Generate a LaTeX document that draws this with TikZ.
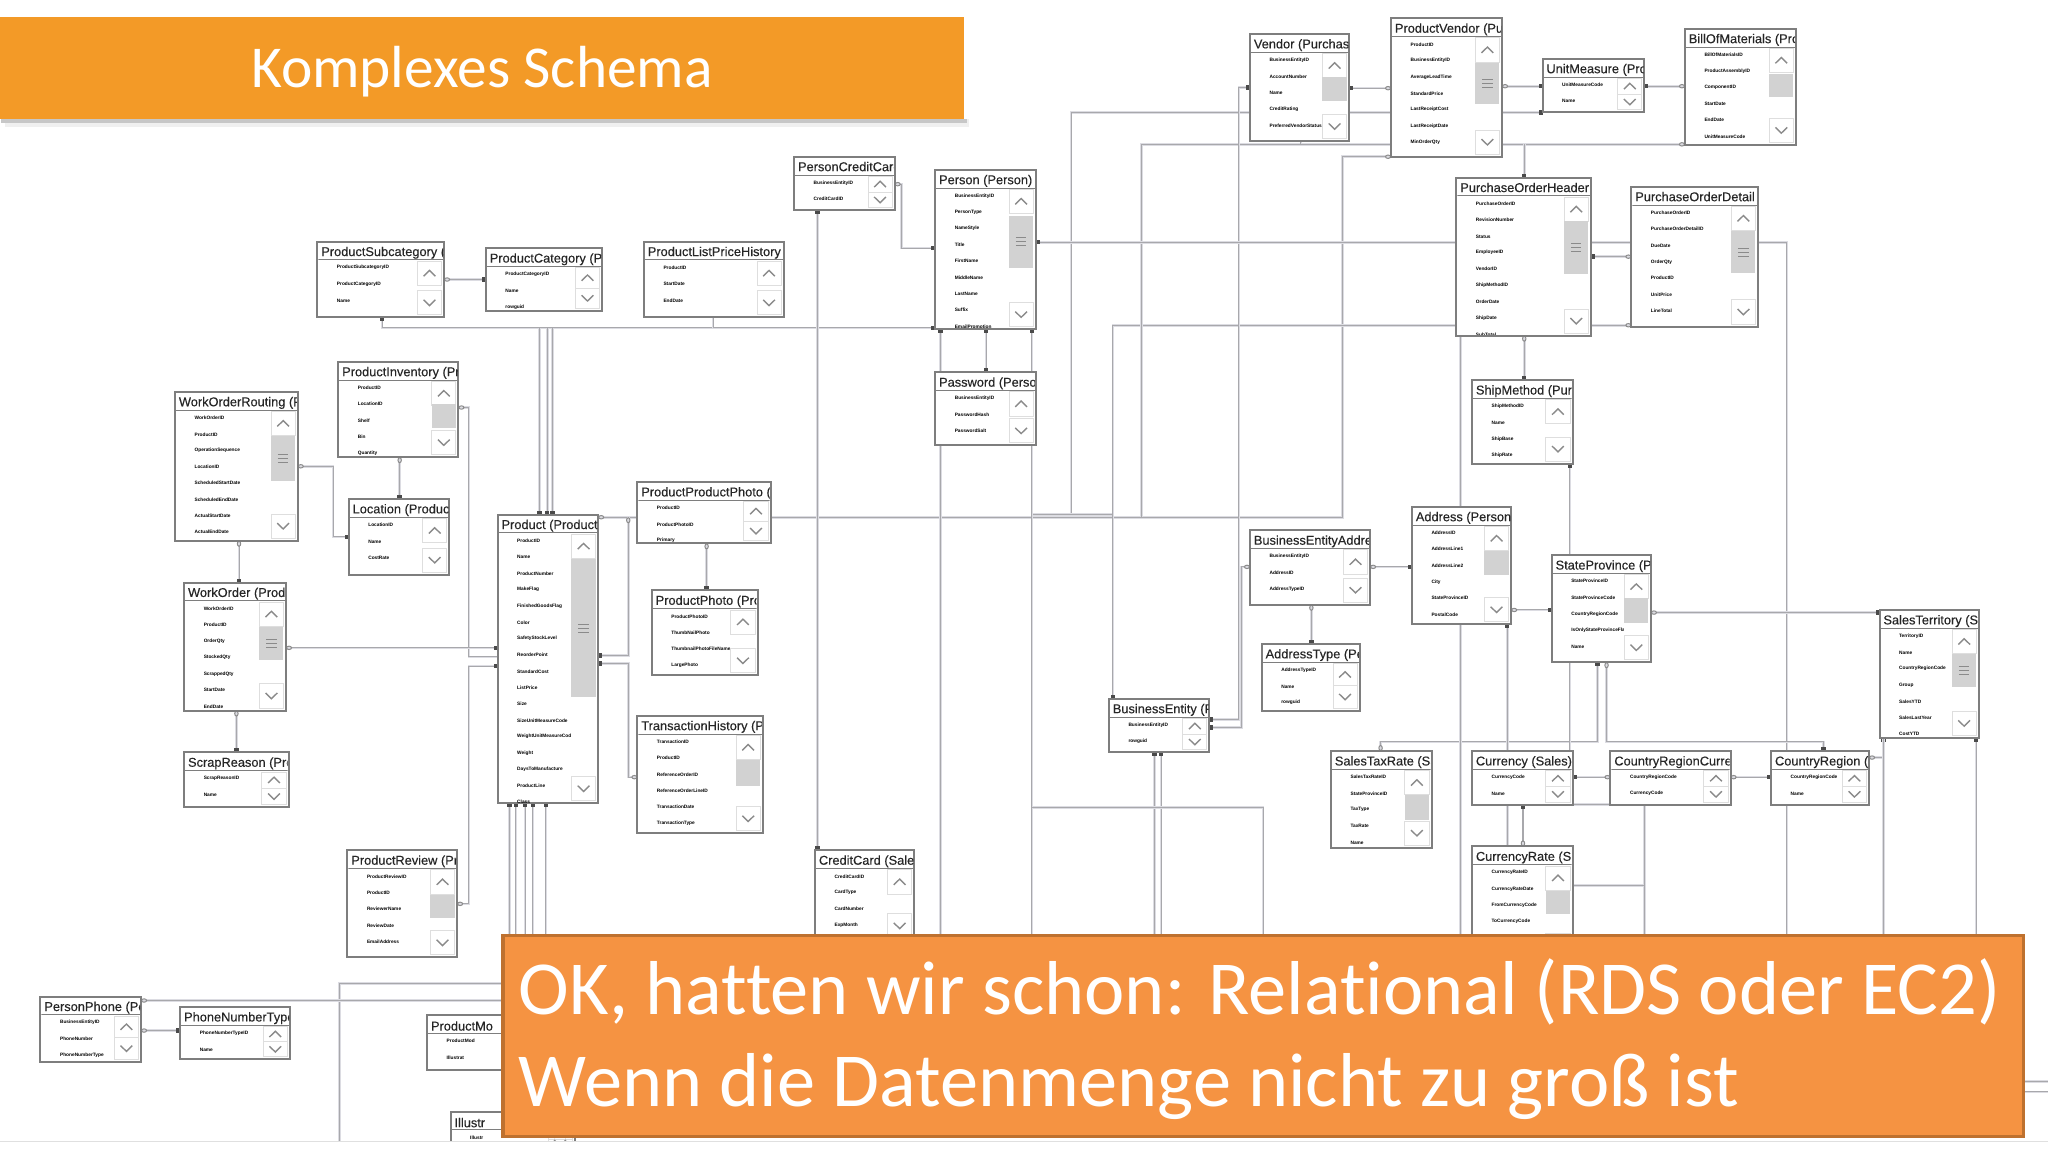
\documentclass[tikz,border=0pt]{standalone}
\usepackage{fontspec}
\setmainfont{Liberation Sans}
\newfontfamily\bannerfont[Ligatures=NoCommon]{Carlito}
\newfontfamily\titlefont[FakeBold=0.25]{Liberation Sans}
\usetikzlibrary{fit,arrows.meta,calc}
\definecolor{wirec}{HTML}{A8A8AC}
\definecolor{haloc}{HTML}{DCDCE2}
\definecolor{boxc}{HTML}{7E7E7E}
\definecolor{thumbc}{HTML}{D2D2D2}
\definecolor{btnc}{HTML}{DEDEDE}
\definecolor{chevc}{HTML}{8A8A8A}
\definecolor{keyc}{HTML}{4A4A4A}
\definecolor{infc}{HTML}{8C8C8C}
\definecolor{topor}{HTML}{F39A27}
\definecolor{botor}{HTML}{F59342}
\definecolor{botedge}{HTML}{BE712F}
\pgfdeclarelayer{bg}
\pgfsetlayers{bg,main}
\tikzset{
  keyt/.tip={Rectangle[length=2pt,width=2.2pt,color=keyc,fill=keyc]},
  inft/.tip={Circle[open,length=3pt,width=2.2pt,color=infc,line width=.5pt]},
  conn/.style={draw=wirec,line width=.5pt,preaction={draw=haloc,line width=1.3pt,-}},
  tblbox/.style={draw=boxc,line width=1pt,fill=white,inner sep=0pt,outer sep=0pt},
  tbltitle/.style={font=\titlefont\fontsize{6.4}{7}\selectfont,text=black!85,inner sep=0pt,outer sep=0pt},
  tblrow/.style={font=\fontsize{2.4}{3}\selectfont\bfseries,text=black,inner sep=0pt,outer sep=0pt},
  titlerule/.style={draw=boxc,line width=.5pt},
  btn/.style={draw=btnc,line width=.4pt,fill=white},
  chev/.style={draw=chevc,line width=.7pt},
  thumb/.style={fill=thumbc,draw=none},
  thumbline/.style={draw=chevc,line width=.45pt},
}
\newcommand\tbl[8]{%
  \node[tblbox,fit={(#2,#3)(#4,#5)}] (#1) {};
  \begin{scope}
    \clip (#2+.7,#3+.7) rectangle (#4-.7,#5-.7);
    \node[tbltitle,anchor=west] at (#2+3,#3+8.5) {#6};
    \draw[titlerule] (#2,#3+14) -- (#4,#3+14);
    \foreach \rr [count=\ii] in {#7}
      \node[tblrow,anchor=west] at (#2+15,#3+7.5+12.5*\ii) {\rr};
    \pgfmathsetmacro\cta{#3+15}
    \pgfmathsetmacro\ctb{#5-2}
    \pgfmathsetmacro\bh{min(18.5,(\ctb-\cta)/2)}
    \pgfmathsetmacro\sxa{#4-20.5}
    \pgfmathsetmacro\sxb{#4-2}
    \pgfmathsetmacro\scx{#4-11.2}
    \fill[white] (\sxa,\cta) rectangle (\sxb,\ctb);
    \draw[btn] (\sxa,\cta) rectangle (\sxb,\cta+\bh);
    \draw[btn] (\sxa,\ctb-\bh) rectangle (\sxb,\ctb);
    \draw[chev] (\scx-4.5,\cta+\bh/2+2.2) -- (\scx,\cta+\bh/2-2.2) -- (\scx+4.5,\cta+\bh/2+2.2);
    \draw[chev] (\scx-4.5,\ctb-\bh/2-2.2) -- (\scx,\ctb-\bh/2+2.2) -- (\scx+4.5,\ctb-\bh/2-2.2);
    \foreach \ta/\tb/\tl in {#8} {%
      \ifnum\tl>-1\relax
        \fill[thumb] (\sxa,\ta) rectangle (\sxb,\tb);
      \fi
      \ifnum\tl>0\relax
        \pgfmathsetmacro\tm{(\ta+\tb)/2}
        \draw[thumbline] (\scx-4,\tm-3) -- (\scx+4,\tm-3);
        \draw[thumbline] (\scx-4,\tm) -- (\scx+4,\tm);
        \draw[thumbline] (\scx-4,\tm+3) -- (\scx+4,\tm+3);
      \fi
    }
  \end{scope}
}
\begin{document}
\begin{tikzpicture}[x=0.653061pt,y=-0.653061pt]
\useasboundingbox (0,0) rectangle (1568,882);

\tbl{Vendor}{957}{26}{1033}{108}{Vendor (Purchasing)}{BusinessEntityID,AccountNumber,Name,CreditRating,PreferredVendorStatus}{59/77/0}
\tbl{ProductVendor}{1065}{14}{1150}{120}{ProductVendor (Purchasing)}{ProductID,BusinessEntityID,AverageLeadTime,StandardPrice,LastReceiptCost,LastReceiptDate,MinOrderQty}{48/80/1}
\tbl{UnitMeasure}{1181}{45}{1259}{86}{UnitMeasure (Production)}{UnitMeasureCode,Name}{0/0/-1}
\tbl{BillOfMaterials}{1290}{22}{1375}{111}{BillOfMaterials (Production)}{BillOfMaterialsID,ProductAssemblyID,ComponentID,StartDate,EndDate,UnitMeasureCode}{57/74/0}
\tbl{POH}{1115}{136}{1218}{257}{PurchaseOrderHeader (Purchasing)}{PurchaseOrderID,RevisionNumber,Status,EmployeeID,VendorID,ShipMethodID,OrderDate,ShipDate,SubTotal}{169/210/1}
\tbl{POD}{1249}{143}{1346}{250}{PurchaseOrderDetail (Purchasing)}{PurchaseOrderID,PurchaseOrderDetailID,DueDate,OrderQty,ProductID,UnitPrice,LineTotal}{177/209/1}
\tbl{PersonCreditCard}{608}{120}{685}{161}{PersonCreditCard (Sales)}{BusinessEntityID,CreditCardID}{0/0/-1}
\tbl{Person}{716}{130}{793}{252}{Person (Person)}{BusinessEntityID,PersonType,NameStyle,Title,FirstName,MiddleName,LastName,Suffix,EmailPromotion,AdditionalContactInfo}{165/205/1}
\tbl{ProductSubcategory}{243}{185}{340}{243}{ProductSubcategory (Production)}{ProductSubcategoryID,ProductCategoryID,Name}{0/0/-1}
\tbl{ProductCategory}{372}{190}{461}{238}{ProductCategory (Production)}{ProductCategoryID,Name,rowguid}{0/0/-1}
\tbl{ProductListPriceHistory}{493}{185}{600}{243}{ProductListPriceHistory (Production)}{ProductID,StartDate,EndDate}{0/0/-1}
\tbl{ProductInventory}{259}{277}{351}{350}{ProductInventory (Production)}{ProductID,LocationID,Shelf,Bin,Quantity}{309/328/0}
\tbl{WorkOrderRouting}{134}{300}{228}{414}{WorkOrderRouting (Production)}{WorkOrderID,ProductID,OperationSequence,LocationID,ScheduledStartDate,ScheduledEndDate,ActualStartDate,ActualEndDate}{334/368/1}
\tbl{Location}{267}{382}{344}{440}{Location (Production)}{LocationID,Name,CostRate}{0/0/-1}
\tbl{Password}{716}{285}{793}{341}{Password (Person)}{BusinessEntityID,PasswordHash,PasswordSalt}{0/0/-1}
\tbl{ShipMethod}{1127}{291}{1204}{355}{ShipMethod (Purchasing)}{ShipMethodID,Name,ShipBase,ShipRate}{0/0/-1}
\tbl{ProductProductPhoto}{488}{369}{590}{416}{ProductProductPhoto (Production)}{ProductID,ProductPhotoID,Primary}{0/0/-1}
\tbl{Product}{381}{394}{458}{615}{Product (Production)}{ProductID,Name,ProductNumber,MakeFlag,FinishedGoodsFlag,Color,SafetyStockLevel,ReorderPoint,StandardCost,ListPrice,Size,SizeUnitMeasureCode,WeightUnitMeasureCode,Weight,DaysToManufacture,ProductLine,Class}{428/534/1}
\tbl{ProductPhoto}{499}{452}{580}{517}{ProductPhoto (Production)}{ProductPhotoID,ThumbNailPhoto,ThumbnailPhotoFileName,LargePhoto}{0/0/-1}
\tbl{TransactionHistory}{488}{548}{584}{638}{TransactionHistory (Production)}{TransactionID,ProductID,ReferenceOrderID,ReferenceOrderLineID,TransactionDate,TransactionType}{582/602/0}
\tbl{WorkOrder}{141}{446}{219}{544}{WorkOrder (Production)}{WorkOrderID,ProductID,OrderQty,StockedQty,ScrappedQty,StartDate,EndDate}{480/505/1}
\tbl{ScrapReason}{141}{576}{221}{618}{ScrapReason (Production)}{ScrapReasonID,Name}{0/0/-1}
\tbl{ProductReview}{266}{651}{350}{733}{ProductReview (Production)}{ProductReviewID,ProductID,ReviewerName,ReviewDate,EmailAddress}{685/703/0}
\tbl{CreditCard}{624}{651}{700}{720}{CreditCard (Sales)}{CreditCardID,CardType,CardNumber,ExpMonth}{0/0/-1}
\tbl{PersonPhone}{31}{763}{108}{813}{PersonPhone (Person)}{BusinessEntityID,PhoneNumber,PhoneNumberType}{0/0/-1}
\tbl{PhoneNumberType}{138}{771}{222}{811}{PhoneNumberType (Person)}{PhoneNumberTypeID,Name}{0/0/-1}
\tbl{ProductModel}{327}{777}{420}{819}{ProductMo}{ProductMod,Illustrat}{0/0/-1}
\tbl{Illustration}{345}{851}{440}{880}{Illustr}{Illustr}{0/0/-1}
\tbl{BEA}{957}{406}{1049}{463}{BusinessEntityAddress}{BusinessEntityID,AddressID,AddressTypeID}{0/0/-1}
\tbl{Address}{1081}{388}{1157}{478}{Address (Person)}{AddressID,AddressLine1,AddressLine2,City,StateProvinceID,PostalCode}{422/440/0}
\tbl{StateProvince}{1188}{425}{1264}{507}{StateProvince (Person)}{StateProvinceID,StateProvinceCode,CountryRegionCode,IsOnlyStateProvinceFlag,Name}{458/477/0}
\tbl{SalesTerritory}{1439}{467}{1515}{565}{SalesTerritory (Sales)}{TerritoryID,Name,CountryRegionCode,Group,SalesYTD,SalesLastYear,CostYTD}{501/526/1}
\tbl{BusinessEntity}{849}{535}{926}{576}{BusinessEntity (Person)}{BusinessEntityID,rowguid}{0/0/-1}
\tbl{AddressType}{966}{493}{1041}{544}{AddressType (Person)}{AddressTypeID,Name,rowguid}{0/0/-1}
\tbl{SalesTaxRate}{1019}{575}{1096}{649}{SalesTaxRate (Sales)}{SalesTaxRateID,StateProvinceID,TaxType,TaxRate,Name}{609/628/0}
\tbl{Currency}{1127}{575}{1204}{616}{Currency (Sales)}{CurrencyCode,Name}{0/0/-1}
\tbl{CRC}{1233}{575}{1325}{616}{CountryRegionCurrency (Sales)}{CountryRegionCode,CurrencyCode}{0/0/-1}
\tbl{CountryRegion}{1356}{575}{1431}{616}{CountryRegion (Person)}{CountryRegionCode,Name}{0/0/-1}
\tbl{CurrencyRate}{1127}{648}{1204}{735}{CurrencyRate (Sales)}{CurrencyRateID,CurrencyRateDate,FromCurrencyCode,ToCurrencyCode}{682/700/0}

\coordinate (floor) at (0,722);
\coordinate (jA) at (820,394);
\coordinate (jB) at (1028,396);
\coordinate (jC) at (790,394);
\coordinate (jD) at (852,394);
\coordinate (jE) at (874,396);
\coordinate (jF) at (1167,110.5);
\coordinate (jG) at (996,110.5);
\coordinate (jH) at (359,312);
\coordinate (jI) at (413,251);
\coordinate (jJ) at (419,251);
\coordinate (jK) at (423,251);
\coordinate (jL) at (546,251);
\coordinate (jM) at (1202,616);
\coordinate (jN) at (1259,616);
\coordinate (jO) at (790,618);
\coordinate (jP) at (260,753);
\coordinate (jQ) at (260,874);
\coordinate (jR) at (384,753);
\coordinate (jS) at (384,766);
\coordinate (jT) at (1550,828);
\coordinate (jU) at (1568,828);
\coordinate (jV) at (1550,836);
\coordinate (jW) at (1568,836);

\begin{pgfonlayer}{bg}
\draw[conn,{keyt}-{inft}] (Vendor.east|-0,67.5) -- (ProductVendor.west|-0,67.5);
\draw[conn,{inft}-{keyt}] (ProductVendor.east|-0,66) -- (UnitMeasure.west|-0,66);
\draw[conn,{inft}-{keyt}] (BillOfMaterials.west|-0,66) -- (UnitMeasure.east|-0,66);
\draw[conn,-{keyt}] (jA) |- (UnitMeasure.west|-0,86);
\draw[conn,-{inft}] (ProductProductPhoto.east|-jB) -- (jB) |- (ProductVendor.west|-0,120);
\draw[conn,-{keyt}] (jC) -- (jD) -- (jD|-BusinessEntity.north);
\draw[conn,-{inft}] (jD) |- (POD.west|-0,249);
\draw[conn,-{inft}] (jE) |- (BillOfMaterials.west|-0,110.5);
\draw[conn,-{keyt}] (jF) -- (jF|-POH.north);
\draw[conn] (jG) -- (jG|-Vendor.south);
\draw[conn,{keyt}-{keyt}] (BusinessEntity.east|-0,551) -| (948.5,67) -- (Vendor.west|-0,67);
\draw[conn,{keyt}-{inft}] (BusinessEntity.east|-0,557) -| (950.5,434) -- (BEA.west|-0,434);
\draw[conn,{keyt}-] (Person.east|-0,185.5) -| (floor-|1368,0);
\draw[conn,{inft}-{keyt}] (POD.west|-0,196.5) -- (POH.east|-0,196.5);
\draw[conn,{keyt}-] (720,0|-Person.south) -- (floor-|720,0);
\draw[conn,{keyt}-{keyt}] (755,0|-Person.south) -- (755,0|-Password.north);
\draw[conn,{keyt}-] (790,0|-Person.south) -- (floor-|790,0);
\draw[conn,{keyt}-{keyt}] (292.5,0|-ProductSubcategory.south) |- (Person.west|-0,251);
\draw[conn] (jL|-ProductListPriceHistory.south) -- (jL);
\draw[conn,-{keyt}] (jI) -- (jI|-Product.north);
\draw[conn,-{keyt}] (jJ) -- (jJ|-Product.north);
\draw[conn,-{keyt}] (jK) -- (jK|-Product.north);
\draw[conn,{inft}-{keyt}] (PersonCreditCard.east|-0,141) -| (690,190) -- (Person.west|-0,190);
\draw[conn,{keyt}-{keyt}] (626,0|-PersonCreditCard.south) -- (626,0|-CreditCard.north);
\draw[conn,{inft}-{keyt}] (ProductSubcategory.east|-0,214) -- (ProductCategory.west|-0,214);
\draw[conn,{inft}-] (ProductInventory.east|-jH) -- (jH) -- (359,503) -- (Product.west|-0,503);
\draw[conn,{inft}-{keyt}] (WorkOrder.east|-0,496) -- (Product.west|-0,496);
\draw[conn,{inft}-{keyt}] (ProductReview.east|-0,692) -| (359,510) -- (Product.west|-0,510);
\draw[conn,{inft}-] (Product.east|-0,396) -- (ProductProductPhoto.west|-0,396);
\draw[conn,{keyt}-{inft}] (Product.east|-0,502) -| (481,396);
\draw[conn,{keyt}-{inft}] (Product.east|-0,508) -| (481,595) -- (TransactionHistory.west|-0,595);
\draw[conn,{inft}-{keyt}] (541,0|-ProductProductPhoto.south) -- (541,0|-ProductPhoto.north);
\draw[conn,{inft}-{keyt}] (WorkOrderRouting.east|-0,357) -| (255,411) -- (Location.west|-0,411);
\draw[conn,{inft}-{keyt}] (183,0|-WorkOrderRouting.south) -- (183,0|-WorkOrder.north);
\draw[conn,{inft}-{keyt}] (181,0|-WorkOrder.south) -- (181,0|-ScrapReason.north);
\draw[conn,{inft}-{keyt}] (306,0|-ProductInventory.south) -- (306,0|-Location.north);
\draw[conn,{keyt}-] (390,0|-Product.south) -- (floor-|390,0);
\draw[conn,{keyt}-] (395,0|-Product.south) -- (floor-|395,0);
\draw[conn,{keyt}-] (402,0|-Product.south) -- (floor-|402,0);
\draw[conn,{keyt}-] (408,0|-Product.south) -- (floor-|408,0);
\draw[conn,{keyt}-] (418,0|-Product.south) -- (floor-|418,0);
\draw[conn] (jQ) -- (jP) -- (jR);
\draw[conn,{inft}-] (PersonPhone.east|-jS) -- (jS);
\draw[conn,{inft}-{keyt}] (PersonPhone.east|-0,789) -- (PhoneNumberType.west|-0,789);
\draw[conn,{inft}-{keyt}] (BEA.east|-0,434) -- (Address.west|-0,434);
\draw[conn,{inft}-{keyt}] (Address.east|-0,467) -- (StateProvince.west|-0,467);
\draw[conn,{inft}-{keyt}] (StateProvince.east|-0,469) -- (SalesTerritory.west|-0,469);
\draw[conn,{inft}-{keyt}] (1004,0|-BEA.south) -- (1004,0|-AddressType.north);
\draw[conn,{keyt}-{inft}] (1223,0|-StateProvince.south) |- (1057,568) -- (1057,0|-SalesTaxRate.north);
\draw[conn,{inft}-{keyt}] (1230,0|-StateProvince.south) |- (1396,568) -- (1396,0|-CountryRegion.north);
\draw[conn,{keyt}-{inft}] (Currency.east|-0,595) -- (CRC.west|-0,595);
\draw[conn,{inft}-{keyt}] (CRC.east|-0,595) -- (CountryRegion.west|-0,595);
\draw[conn,{keyt}-{inft},line width=.9pt] (1166,0|-Currency.south) -- (1166,0|-CurrencyRate.north);
\draw[conn,{keyt}-] (1154,0|-Address.south) -- (1154,0|-CurrencyRate.north);
\draw[conn,-{keyt}] (1118,0|-POH.south) -- (floor-|1118,0);
\draw[conn,{inft}-{keyt}] (1167,0|-POH.south) -- (1167,0|-ShipMethod.north);
\draw[conn,{keyt}-] (jM|-ShipMethod.south) -- (jM) -- (jN) -- (floor-|jN);
\draw[conn] (CurrencyRate.east|-0,678) -- (jN|-0,678);
\draw[conn,{inft}-{keyt}] (CountryRegion.east|-0,580) -| (1442,0|-SalesTerritory.south);
\draw[conn] (1442,0|-SalesTerritory.south) -- (floor-|1442,0);
\draw[conn,{keyt}-] (1513,0|-SalesTerritory.south) -- (floor-|1513,0);
\draw[conn,{keyt}-] (884,0|-BusinessEntity.south) -- (floor-|884,0);
\draw[conn,{keyt}-] (889,0|-BusinessEntity.south) -- (floor-|889,0);
\draw[conn] (jO) -| (floor-|967,0);
\draw[conn] (jT) -- (jU);
\draw[conn] (jV) -- (jW);
\end{pgfonlayer}

% slide bottom edge
\fill[white] (0,874) rectangle (1568,882);
\draw[draw=black!12,line width=.5pt] (0,874) -- (1568,874);

% banners
\fill[black!6] (4,91) rectangle (742,97);
\fill[black!22] (1,91) rectangle (740,94);
\fill[topor] (0,13) rectangle (738,91);
\node[anchor=base,text=white,inner sep=0pt,font=\bannerfont\fontsize{29.7}{32}\selectfont] (titletext) at (369,67) {Komplexes Schema};
\node[draw=botedge,fill=botor,line width=1.7pt,inner sep=0pt,fit={(385,716)(1549,870)}] (banner) {};
\node[anchor=base west,text=white,inner sep=0pt,font=\bannerfont\fontsize{38.2}{42}\selectfont] (bannerone) at (397,777) {OK, hatten wir schon: Relational (RDS oder EC2)};
\node[anchor=base west,text=white,inner sep=0pt,font=\bannerfont\fontsize{38.2}{42}\selectfont] (bannertwo) at (397,847) {Wenn die Datenmenge nicht zu groß ist};
\end{tikzpicture}
\end{document}
